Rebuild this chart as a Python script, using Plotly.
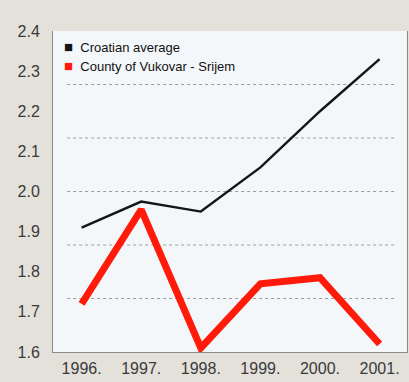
import plotly.graph_objects as go

years = [1996, 1997, 1998, 1999, 2000, 2001]
year_labels = ["1996.", "1997.", "1998.", "1999.", "2000.", "2001."]
croatian_average = [1.91, 1.975, 1.95, 2.06, 2.20, 2.33]
vukovar_srijem = [1.72, 1.955, 1.61, 1.77, 1.785, 1.62]
series_names = ["Croatian average", "County of Vukovar - Srijem"]
series_colors = ["#151515", "#ff1a0a"]
y_ticks = [1.6, 1.7, 1.8, 1.9, 2.0, 2.1, 2.2, 2.3, 2.4]

y_min, y_max = 1.6, 2.4
grid_steps = 6

fig = go.Figure()

fig.add_trace(go.Scatter(
    x=years, y=croatian_average, mode="lines", name=series_names[0],
    line=dict(color=series_colors[0], width=2.4), showlegend=False,
))
fig.add_trace(go.Scatter(
    x=years, y=vukovar_srijem, mode="lines", name=series_names[1],
    line=dict(color=series_colors[1], width=7), showlegend=False,
))

# compact key in the upper-left corner: coloured square + series name
for i, (name, col) in enumerate(zip(series_names, series_colors)):
    fig.add_annotation(
        xref="paper", yref="paper", x=0.026, y=0.952 - i * 0.06,
        xanchor="left", yanchor="middle", showarrow=False,
        text=f"<span style='color:{col};font-size:15px'>■</span>&nbsp; {name}",
        font=dict(size=13, color="#111111"),
    )

# dotted background guides, evenly splitting the value range
for k in range(1, grid_steps):
    yv = y_min + k * (y_max - y_min) / grid_steps
    fig.add_shape(
        type="line", xref="paper", yref="y",
        x0=0.04, x1=0.972, y0=yv, y1=yv,
        line=dict(color="#9c9c9c", width=1, dash="dot"), layer="below",
    )

fig.update_layout(
    width=409, height=382,
    margin=dict(l=53, r=2, t=31, b=30),
    paper_bgcolor="#e4e1da",
    plot_bgcolor="#f4f7fa",
    font=dict(family="Liberation Sans, Arial, sans-serif", color="#3a3a3a"),
    showlegend=False,
    xaxis=dict(
        range=[1995.52, 2001.46], tickvals=years, ticktext=year_labels,
        showgrid=False, zeroline=False, showline=True,
        linecolor="#8a8a8a", linewidth=1, ticks="outside", ticklen=2,
        tickcolor="rgba(0,0,0,0)",
        tickfont=dict(size=16, color="#3a3a3a"), fixedrange=True,
    ),
    yaxis=dict(
        range=[y_min, y_max], tickvals=y_ticks,
        ticktext=[f"{v:.1f}" for v in y_ticks],
        showgrid=False, zeroline=False, showline=True, mirror=True,
        linecolor="#8a8a8a", linewidth=1, ticks="outside", ticklen=9,
        tickcolor="rgba(0,0,0,0)",
        tickfont=dict(size=16, color="#3a3a3a"), fixedrange=True,
    ),
)

fig.write_html("out.html")
